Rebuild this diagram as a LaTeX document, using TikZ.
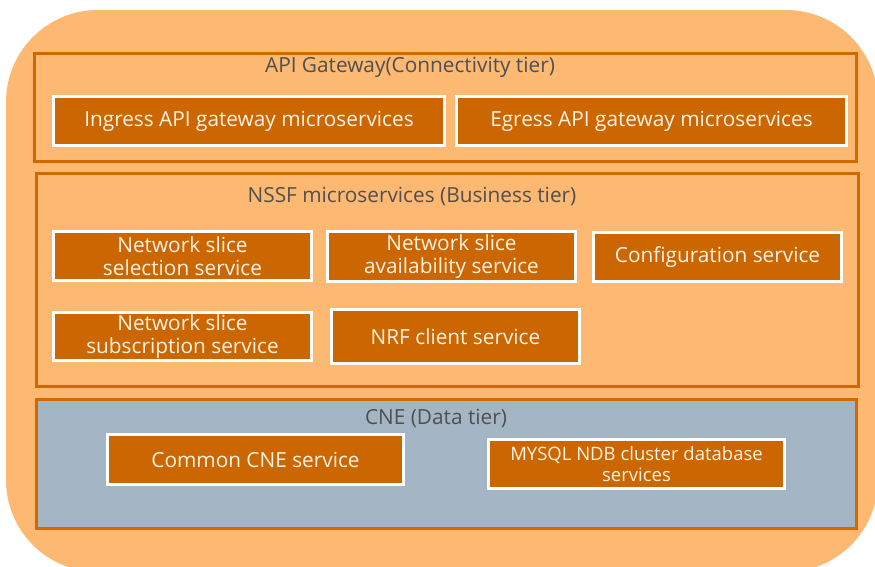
\documentclass[tikz,border=0pt]{standalone}
\usepackage{fontspec}
\setmainfont{Open Sans}
\definecolor{paleorange}{HTML}{FDB872}
\definecolor{tierline}{HTML}{D06A00}
\definecolor{svcfill}{HTML}{CC6600}
\definecolor{datafill}{HTML}{A4B6C5}
\definecolor{titlegray}{HTML}{505050}
\definecolor{svctext}{HTML}{FFF3E6}
\tikzset{
  tierbox/.style={draw=tierline, line width=3pt, inner sep=0pt},
  svcbox/.style={draw=white, fill=svcfill, line width=3pt, inner sep=0pt,
    text=svctext, align=center, font=\fontsize{20.8}{23}\selectfont},
  smallsvc/.style={svcbox, font=\fontsize{18.5}{20.5}\selectfont},
  tiertitle/.style={text=titlegray, inner sep=0pt, font=\fontsize{20.8}{23}\selectfont},
}
\begin{document}
\begin{tikzpicture}[x=1pt,y=-1pt]
\useasboundingbox (0,0) rectangle (875,566);
\begin{scope}
  \clip (0,0) rectangle (875,566);
  \fill[paleorange] (6,10) [rounded corners=92pt] rectangle (878,572);
\end{scope}

% tiers
\node[tierbox, minimum width=822pt, minimum height=108pt] (api) at (445.5,107.5) {};
\node[tierbox, minimum width=822pt, minimum height=213pt] (nssf) at (447.5,280) {};
\node[tierbox, fill=datafill, minimum width=820pt, minimum height=129pt] (cne) at (446.5,464) {};

\node[tiertitle] (apit) at (410,67) {API Gateway(Connectivity tier)};
\node[tiertitle] (nssft) at (412,197) {NSSF microservices (Business tier)};
\node[tiertitle] (cnet) at (436,419) {CNE (Data tier)};

% connectivity tier services
\node[svcbox, minimum width=391pt, minimum height=49pt] (ingress) at (249,121) {Ingress API gateway microservices};
\node[svcbox, minimum width=390pt, minimum height=49pt] (egress) at (651.5,121) {Egress API gateway microservices};

% business tier services
\node[svcbox, minimum width=258pt, minimum height=49pt] (select) at (182.5,256) {Network slice\\selection service};
\node[svcbox, minimum width=248pt, minimum height=50pt] (avail) at (451.5,256.5) {Network slice\\availability service};
\node[svcbox, minimum width=248pt, minimum height=49pt] (config) at (717.5,257) {Configuration service};
\node[svcbox, minimum width=258pt, minimum height=48pt] (subscr) at (182.5,336.5) {Network slice\\subscription service};
\node[svcbox, minimum width=248pt, minimum height=54pt] (nrf) at (455.5,336.5) {NRF client service};

% data tier services
\node[svcbox, minimum width=296pt, minimum height=50pt] (common) at (255.5,459.5) {Common CNE service};
\node[smallsvc, minimum width=296pt, minimum height=49pt] (mysql) at (636.5,464) {MYSQL NDB cluster database\\services};
\end{tikzpicture}
\end{document}
